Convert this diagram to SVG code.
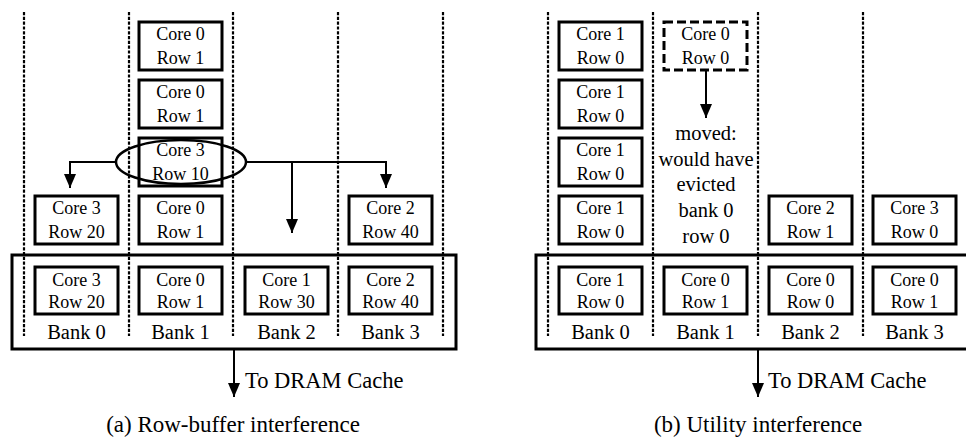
<svg xmlns="http://www.w3.org/2000/svg" width="966" height="439" viewBox="0 0 966 439">
<defs>
<style>
.dot{stroke:#000;stroke-width:2.2;stroke-dasharray:3.2 1.6;fill:none}
.box{fill:#fff;stroke:#000;stroke-width:3}
.dbox{fill:#fff;stroke:#000;stroke-width:3;stroke-dasharray:9 4}
.frame{fill:none;stroke:#000;stroke-width:3}
.ln{fill:none;stroke:#000;stroke-width:2}
.t{font-family:"Liberation Serif","Times New Roman",serif;font-size:18px;text-anchor:middle;fill:#000}
.b{font-family:"Liberation Serif","Times New Roman",serif;font-size:20.5px;text-anchor:middle;fill:#000}
.l{font-family:"Liberation Serif","Times New Roman",serif;font-size:22.5px;fill:#000}
.c{font-family:"Liberation Serif","Times New Roman",serif;font-size:23px;text-anchor:middle;fill:#000}
</style>
<marker id="ah" markerUnits="userSpaceOnUse" markerWidth="14" markerHeight="12" viewBox="0 0 14 12" refX="14" refY="6" orient="auto">
<path d="M0,0 L14,6 L0,12 Z" fill="#000"/>
</marker>
</defs>

<g id="guides-a">
<line class="dot" x1="24" y1="12" x2="24" y2="336"/>
<line class="dot" x1="129" y1="12" x2="129" y2="336"/>
<line class="dot" x1="233" y1="12" x2="233" y2="336"/>
<line class="dot" x1="338" y1="12" x2="338" y2="336"/>
<line class="dot" x1="443" y1="12" x2="443" y2="336"/>
</g>
<g id="frame-a"><rect class="frame" x="12" y="255" width="444" height="94"/></g>

<g id="a-b1-r1"><rect class="box" x="139" y="22" width="83" height="48"/><text class="t" x="180.5" y="40">Core 0</text><text class="t" x="180.5" y="64">Row 1</text></g>
<g id="a-b1-r2"><rect class="box" x="139" y="80" width="83" height="48"/><text class="t" x="180.5" y="98">Core 0</text><text class="t" x="180.5" y="122">Row 1</text></g>
<g id="a-b1-r3"><rect class="box" x="139" y="138" width="83" height="48"/><text class="t" x="180.5" y="156">Core 3</text><text class="t" x="180.5" y="180">Row 10</text></g>
<g id="a-b0-r4"><rect class="box" x="35" y="196" width="83" height="48"/><text class="t" x="76.5" y="214">Core 3</text><text class="t" x="76.5" y="238">Row 20</text></g>
<g id="a-b1-r4"><rect class="box" x="139" y="196" width="83" height="48"/><text class="t" x="180.5" y="214">Core 0</text><text class="t" x="180.5" y="238">Row 1</text></g>
<g id="a-b3-r4"><rect class="box" x="349" y="196" width="83" height="48"/><text class="t" x="390.5" y="214">Core 2</text><text class="t" x="390.5" y="238">Row 40</text></g>
<g id="a-b0-rb"><rect class="box" x="35" y="267" width="83" height="47"/><text class="t" x="76.5" y="286">Core 3</text><text class="t" x="76.5" y="308">Row 20</text></g>
<g id="a-b1-rb"><rect class="box" x="139" y="267" width="83" height="47"/><text class="t" x="180.5" y="286">Core 0</text><text class="t" x="180.5" y="308">Row 1</text></g>
<g id="a-b2-rb"><rect class="box" x="245" y="267" width="83" height="47"/><text class="t" x="286.5" y="286">Core 1</text><text class="t" x="286.5" y="308">Row 30</text></g>
<g id="a-b3-rb"><rect class="box" x="349" y="267" width="83" height="47"/><text class="t" x="390.5" y="286">Core 2</text><text class="t" x="390.5" y="308">Row 40</text></g>
<g id="a-banks">
<text class="b" x="76.5" y="339">Bank 0</text>
<text class="b" x="180.5" y="339">Bank 1</text>
<text class="b" x="286.5" y="339">Bank 2</text>
<text class="b" x="390.5" y="339">Bank 3</text>
</g>
<g id="a-ellipse"><ellipse cx="181" cy="162" rx="65" ry="22" fill="none" stroke="#000" stroke-width="2.5"/></g>
<g id="a-labels">
<text class="l" x="245" y="388">To DRAM Cache</text>
<text class="c" x="233" y="432">(a) Row-buffer interference</text>
</g>

<g id="guides-b">
<line class="dot" x1="548" y1="12" x2="548" y2="336"/>
<line class="dot" x1="653" y1="12" x2="653" y2="336"/>
<line class="dot" x1="758" y1="12" x2="758" y2="336"/>
<line class="dot" x1="863" y1="12" x2="863" y2="336"/>
</g>
<g id="frame-b"><rect class="frame" x="536" y="255" width="440" height="94"/></g>

<g id="b-b0-r1"><rect class="box" x="559" y="22" width="83" height="48"/><text class="t" x="600.5" y="40">Core 1</text><text class="t" x="600.5" y="64">Row 0</text></g>
<g id="b-b0-r2"><rect class="box" x="559" y="80" width="83" height="48"/><text class="t" x="600.5" y="98">Core 1</text><text class="t" x="600.5" y="122">Row 0</text></g>
<g id="b-b0-r3"><rect class="box" x="559" y="138" width="83" height="48"/><text class="t" x="600.5" y="156">Core 1</text><text class="t" x="600.5" y="180">Row 0</text></g>
<g id="b-b0-r4"><rect class="box" x="559" y="196" width="83" height="48"/><text class="t" x="600.5" y="214">Core 1</text><text class="t" x="600.5" y="238">Row 0</text></g>
<g id="b-b1-r1"><rect class="dbox" x="664" y="22" width="83" height="48"/><text class="t" x="705.5" y="40">Core 0</text><text class="t" x="705.5" y="64">Row 0</text></g>
<g id="b-b2-r4"><rect class="box" x="769" y="196" width="83" height="48"/><text class="t" x="810.5" y="214">Core 2</text><text class="t" x="810.5" y="238">Row 1</text></g>
<g id="b-b3-r4"><rect class="box" x="873" y="196" width="83" height="48"/><text class="t" x="914.5" y="214">Core 3</text><text class="t" x="914.5" y="238">Row 0</text></g>
<g id="b-b0-rb"><rect class="box" x="559" y="267" width="83" height="47"/><text class="t" x="600.5" y="286">Core 1</text><text class="t" x="600.5" y="308">Row 0</text></g>
<g id="b-b1-rb"><rect class="box" x="664" y="267" width="83" height="47"/><text class="t" x="705.5" y="286">Core 0</text><text class="t" x="705.5" y="308">Row 1</text></g>
<g id="b-b2-rb"><rect class="box" x="769" y="267" width="83" height="47"/><text class="t" x="810.5" y="286">Core 0</text><text class="t" x="810.5" y="308">Row 0</text></g>
<g id="b-b3-rb"><rect class="box" x="873" y="267" width="83" height="47"/><text class="t" x="914.5" y="286">Core 0</text><text class="t" x="914.5" y="308">Row 1</text></g>
<g id="b-banks">
<text class="b" x="600.5" y="339">Bank 0</text>
<text class="b" x="705.5" y="339">Bank 1</text>
<text class="b" x="810.5" y="339">Bank 2</text>
<text class="b" x="914.5" y="339">Bank 3</text>
</g>
<g id="b-note">
<text class="b" x="706" y="140">moved:</text>
<text class="b" x="706" y="166">would have</text>
<text class="b" x="706" y="191">evicted</text>
<text class="b" x="706" y="217">bank 0</text>
<text class="b" x="706" y="243">row 0</text>
</g>
<g id="b-labels">
<text class="l" x="768" y="388">To DRAM Cache</text>
<text class="c" x="758" y="432">(b) Utility interference</text>
</g>

<g id="connectors">
<polyline class="ln" points="116,162 70,162 70,188" marker-end="url(#ah)"/>
<polyline class="ln" points="246,162 386,162 386,188" marker-end="url(#ah)"/>
<line class="ln" x1="292" y1="162" x2="292" y2="233" marker-end="url(#ah)"/>
<line class="ln" x1="234" y1="349" x2="234" y2="397" marker-end="url(#ah)"/>
<line class="ln" x1="706" y1="70" x2="706" y2="118" marker-end="url(#ah)"/>
<line class="ln" x1="758" y1="349" x2="758" y2="397" marker-end="url(#ah)"/>
</g>
</svg>
